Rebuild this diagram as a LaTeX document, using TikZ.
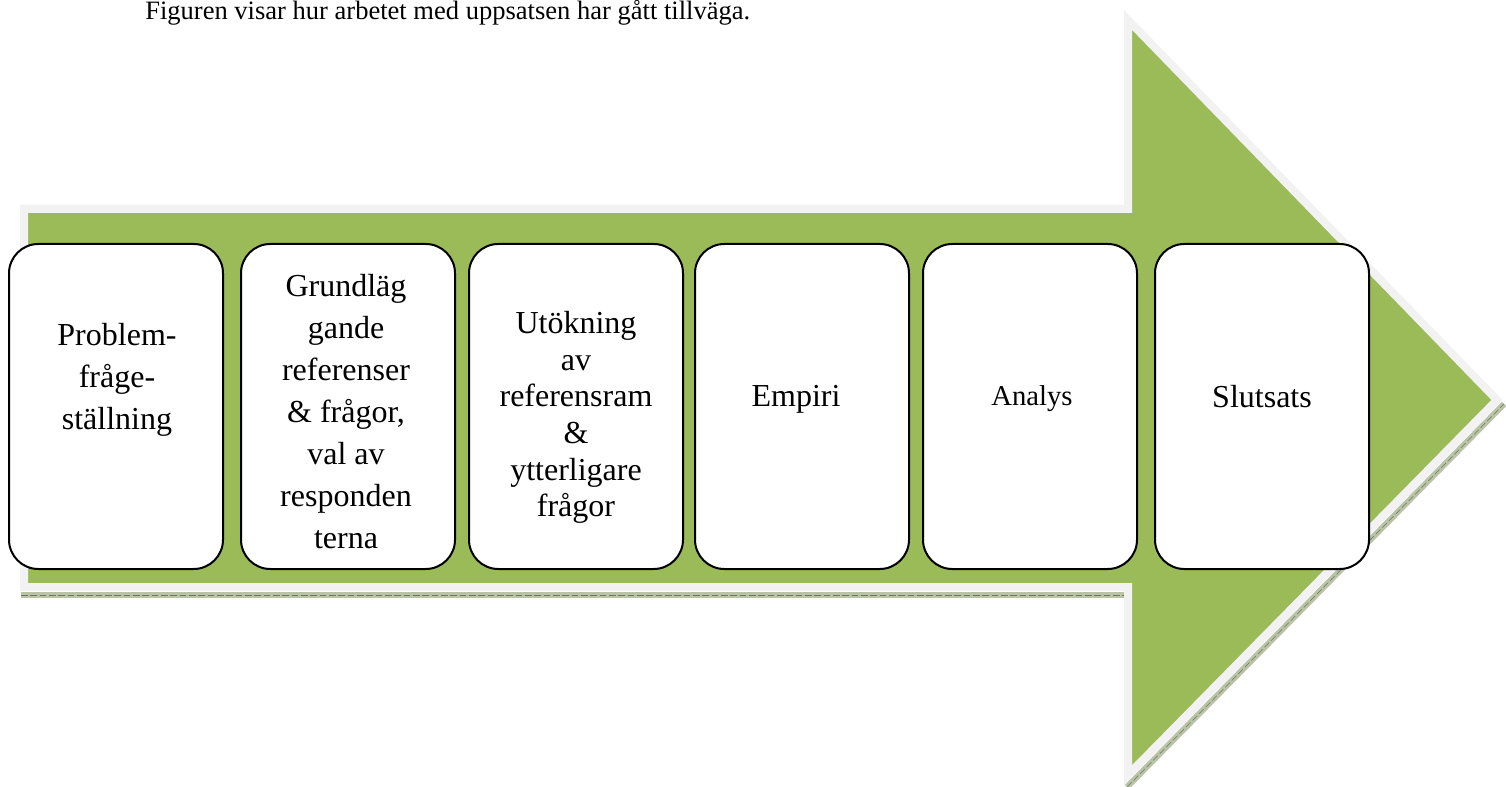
\documentclass[tikz,border=0pt]{standalone}
\usepackage{fontspec}
\setmainfont{Liberation Serif}
\newfontfamily\stepfont{Liberation Serif}
\usetikzlibrary{positioning}

\definecolor{arrowgreen}{RGB}{155,187,89}
\definecolor{arrowrim}{RGB}{242,242,242}
\definecolor{arrowshade}{RGB}{185,195,165}

\begin{document}
\begin{tikzpicture}[x=0.75pt,y=-0.75pt,
    stepbox/.style={draw,line width=1.5pt,fill=white,rounded corners=22pt,minimum width=160.5pt,minimum height=243.75pt,inner sep=0pt},
    steptext/.style={anchor=north,inner sep=0pt,align=center,font=\stepfont\fontsize{24}{31.5}\selectfont},
    shadeline/.style={arrowshade,line width=4.5pt},
    shadetick/.style={arrowshade!60!black,line width=0.4pt,dash pattern=on 5pt off 2pt}]
      \useasboundingbox (0,0) rectangle (1506,787);
      \node[anchor=base west,inner sep=0pt,font=\stepfont\fontsize{19.9}{23}\selectfont] (caption) at (145,20) {Figuren visar hur arbetet med uppsatsen har gått tillväga.};
      % skugga under pilen
      \draw[shadeline] (21,595) -- (1126,595);
      \draw[shadeline] (1127,787) -- (1504,404);
      \draw[shadetick] (21,595) -- (1126,595);
      \draw[shadetick] (1127,787) -- (1504,404);
      % pilen
      \draw[fill=arrowgreen,draw=arrowrim,line width=6pt] (24,209) -- (1128,209) -- (1128,20) -- (1497,400) -- (1128,775) -- (1128,587) -- (24,587) -- cycle;
      % stegen
      \node[stepbox] (problem) at (116,406.5) {};
      \node[stepbox] (grund) at (348,406.5) {};
      \node[stepbox] (utokning) at (576,406.5) {};
      \node[stepbox] (empiri) at (802,406.5) {};
      \node[stepbox] (analys) at (1030,406.5) {};
      \node[stepbox] (slutsats) at (1262,406.5) {};
      \node[steptext] (problemtext) at (117,323) {Problem-\\fråge-\\ställning};
      \node[steptext] (grundtext) at (346,274) {Grundläg\\gande\\referenser\\\& frågor,\\val av\\responden\\terna};
      \node[steptext,font=\stepfont\fontsize{24}{27.5}\selectfont] (utokningtext) at (576,311) {Utökning\\av\\referensram\\\&\\ytterligare\\frågor};
      \node[steptext] (empiritext) at (796,385) {Empiri};
      \node[steptext,font=\stepfont\fontsize{21.5}{26}\selectfont] (analystext) at (1032,385) {Analys};
      \node[steptext] (slutsatstext) at (1262,385) {Slutsats};
    \end{tikzpicture}
\end{document}
